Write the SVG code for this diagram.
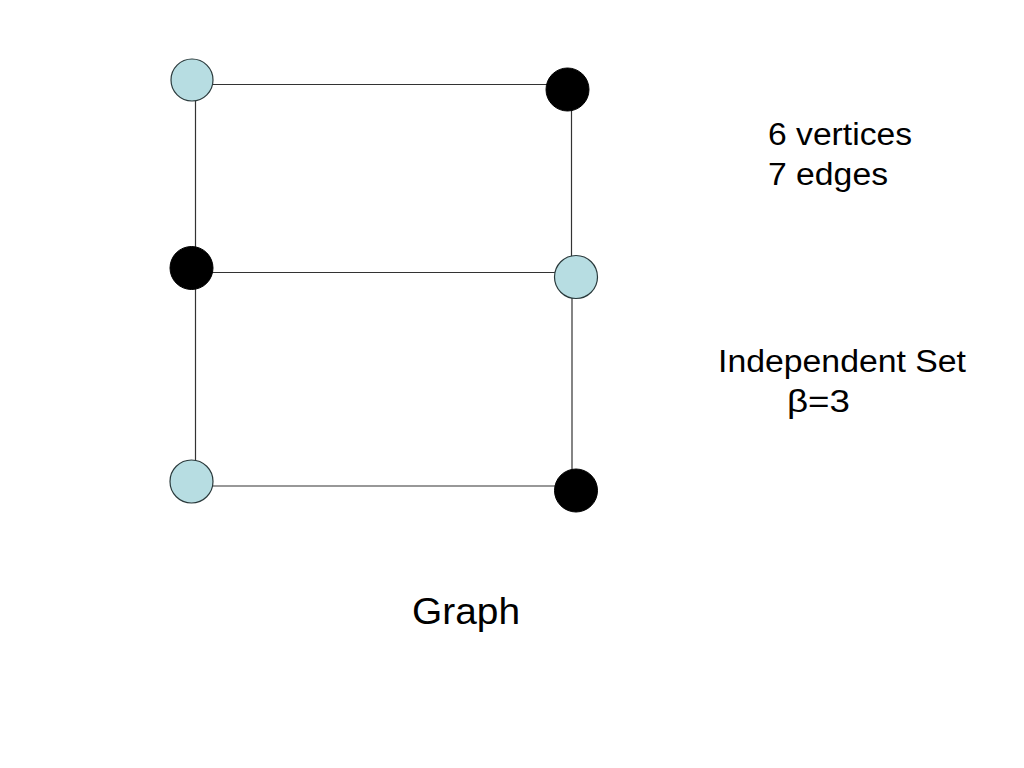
<svg xmlns="http://www.w3.org/2000/svg" width="1024" height="768" viewBox="0 0 1024 768">
<style>
.edge{stroke:#333;stroke-width:1.2;fill:none}
.light{fill:#B7DDE2;stroke:#2a3a3c;stroke-width:1.2}
.dark{fill:#000;stroke:#000;stroke-width:1}
.t{font-family:"Liberation Sans",Arial,sans-serif;font-size:31px;fill:#000}
.big{font-size:36px}
</style>
<rect width="1024" height="768" fill="#fff"/>
<g id="edges">
<line class="edge" x1="192" y1="84.5" x2="567" y2="84.5"/>
<line class="edge" x1="195.5" y1="80" x2="195.5" y2="482"/>
<line class="edge" x1="571.5" y1="89" x2="571.5" y2="277"/>
<line class="edge" x1="572" y1="277" x2="572" y2="490"/>
<line class="edge" x1="192" y1="272.5" x2="576" y2="272.5"/>
<line class="edge" x1="192" y1="486" x2="576" y2="486"/>
</g>
<g id="v1"><circle class="light" cx="192" cy="80" r="21"/></g>
<g id="v2"><circle class="dark" cx="567.5" cy="89.5" r="21.5"/></g>
<g id="v3"><circle class="dark" cx="191.5" cy="268" r="21.5"/></g>
<g id="v4"><circle class="light" cx="576" cy="277" r="21.5"/></g>
<g id="v5"><circle class="light" cx="191.5" cy="481.5" r="21.5"/></g>
<g id="v6"><circle class="dark" cx="576" cy="490.5" r="21.5"/></g>
<g id="labels">
<text class="t" x="768" y="145" textLength="144" lengthAdjust="spacingAndGlyphs">6 vertices</text>
<text class="t" x="768" y="185" textLength="120" lengthAdjust="spacingAndGlyphs">7 edges</text>
<text class="t" x="718" y="372" textLength="248" lengthAdjust="spacingAndGlyphs">Independent Set</text>
<text class="t" x="787" y="412" textLength="63" lengthAdjust="spacingAndGlyphs">β=3</text>
<text class="t big" x="412" y="624" textLength="108" lengthAdjust="spacingAndGlyphs">Graph</text>
</g>
</svg>
